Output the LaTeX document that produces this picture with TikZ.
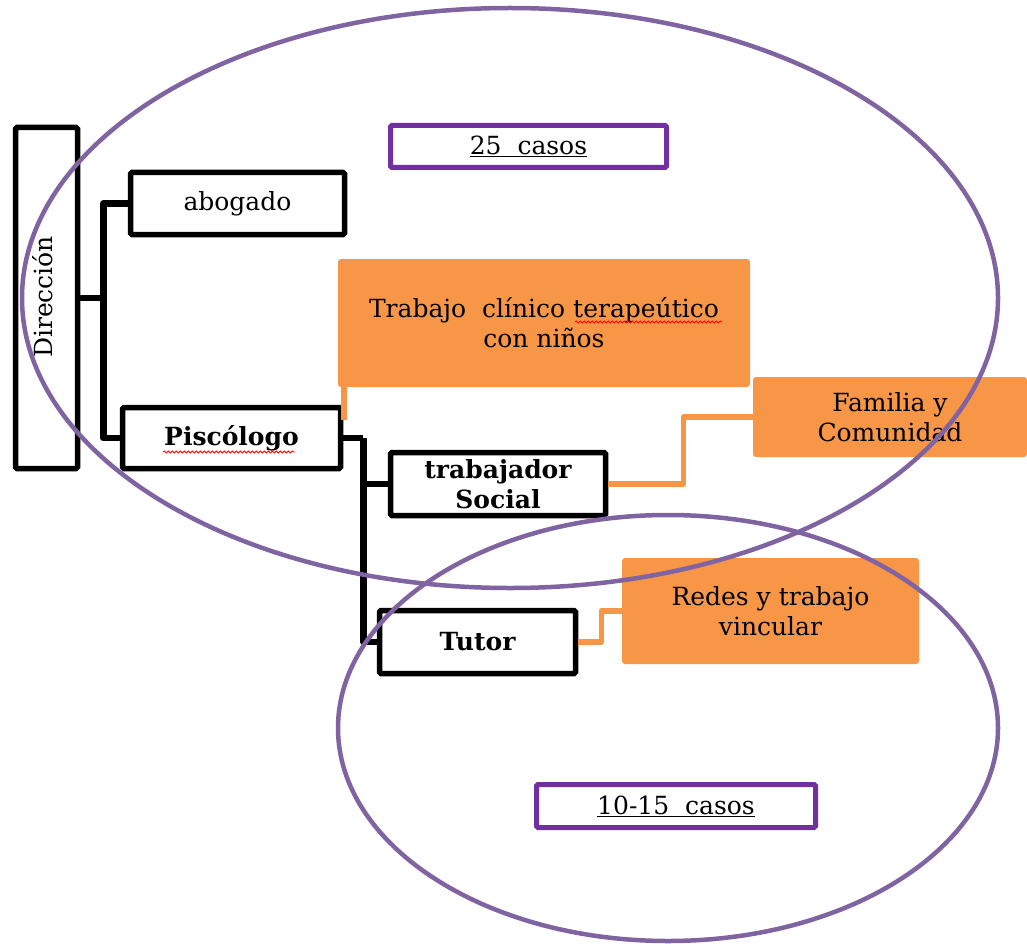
\documentclass[tikz,border=0pt]{standalone}
\usepackage{fontspec}
\setmainfont{DejaVu Serif}
\usetikzlibrary{decorations.pathmorphing}
\definecolor{orng}{HTML}{F79646}
\definecolor{ellc}{HTML}{8064A2}
\definecolor{casc}{HTML}{7030A0}
\tikzset{
  blk/.style={draw=black, line width=5.5pt, rounded corners=1.5pt, fill=white, inner sep=0pt, align=center, font=\fontsize{25}{30}\selectfont},
  orb/.style={fill=orng, rounded corners=3pt, inner sep=0pt, align=center, font=\fontsize{25}{30}\selectfont},
  casbox/.style={draw=casc, line width=5pt, rounded corners=1.5pt, fill=white, inner sep=0pt, font=\fontsize{25}{30}\selectfont},
  conn/.style={draw=black, line width=6.5pt, line join=round},
  oconn/.style={draw=orng, line width=5.5pt, line join=round},
  ell/.style={draw=ellc, line width=4.5pt},
  squig/.style={draw=red, line width=0.8pt, decorate, decoration={snake, amplitude=1pt, segment length=4pt}}
}
\begin{document}
\begin{tikzpicture}[x=1pt, y=-1pt]
\useasboundingbox (0,0) rectangle (1027,944);
% orange boxes
\node[orb, minimum width=412pt, minimum height=128pt] (clin) at (544,323) {Trabajo\ \ clínico terapeútico\\con niños};
\node[orb, minimum width=274pt, minimum height=80pt] (fam) at (890,417) {Familia y\\Comunidad};
\node[orb, minimum width=297pt, minimum height=106pt] (redes) at (770.5,611) {Redes y trabajo\\vincular};
% black boxes
\node[blk, minimum width=62pt, minimum height=341pt] (dir) at (46.5,298) {};
\node[rotate=90, font=\fontsize{25}{30}\selectfont] (dirt) at (43,297) {Dirección};
\node[blk, minimum width=214pt, minimum height=62pt] (abog) at (237.5,203.5) {abogado};
\node[blk, minimum width=218pt, minimum height=61pt, font=\fontsize{25}{30}\selectfont\bfseries] (pis) at (231.5,438) {Piscólogo};
\node[blk, minimum width=215pt, minimum height=63pt, font=\fontsize{25}{30}\selectfont\bfseries] (trab) at (498,484) {trabajador\\Social};
\node[blk, minimum width=196pt, minimum height=63pt, font=\fontsize{25}{30}\selectfont\bfseries] (tut) at (477.5,642) {Tutor};
% cases boxes
\node[casbox, minimum width=276pt, minimum height=42pt] (c25) at (528.5,146.5) {\underline{25\ \ casos}};
\node[casbox, minimum width=279pt, minimum height=43pt] (c10) at (676,806) {\underline{10-15\ \ casos}};
% black connectors
\draw[conn] (dir.east) -- ++(23,0) coordinate (j1);
\draw[conn] (abog.west) -| (j1) |- (pis.west);
\draw[conn] (pis.east) -- ++(20,0) coordinate (j2);
\draw[conn] (j2) |- (trab.west);
\draw[conn] (j2) |- (tut.west);
% orange connectors
\draw[oconn] (trab.east) -- ++(75,0) |- (fam.west);
\draw[oconn] (tut.east) -- ++(23,0) |- (redes.west);
\coordinate (otip) at (344,420);
\draw[oconn] (clin.south west -| otip) -- (otip);
% spell-check squiggles
\draw[squig] (163,452) -- (295,452);
\draw[squig] (575,322) -- (722,322);
% ellipses
\draw[ell] (510,298) ellipse [x radius=488pt, y radius=290pt];
\draw[ell] (668,728) ellipse [x radius=330pt, y radius=213pt];
\end{tikzpicture}
\end{document}
